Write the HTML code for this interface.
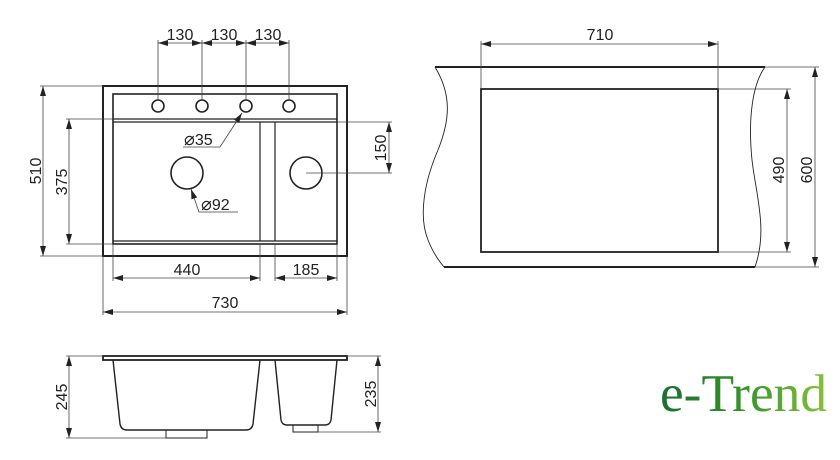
<!DOCTYPE html>
<html><head><meta charset="utf-8"><style>
html,body{margin:0;padding:0;background:#fff;}
svg{display:block;}
text{font-family:"Liberation Sans",sans-serif;font-size:16px;fill:#222;}
</style></head><body>
<svg width="840" height="460" viewBox="0 0 840 460" xmlns="http://www.w3.org/2000/svg">
<defs>
<marker id="a" viewBox="0 0 10 6" refX="10" refY="3" markerWidth="10" markerHeight="6" orient="auto-start-reverse" markerUnits="userSpaceOnUse"><path d="M0,0 L10,3 L0,6 z" fill="#222"/></marker>
<linearGradient id="g" x1="0" x2="1" y1="0" y2="0"><stop offset="0" stop-color="#1a7030"/><stop offset="0.5" stop-color="#369328"/><stop offset="1" stop-color="#86c23c"/></linearGradient>
</defs>
<g fill="none" stroke="#222">
<rect x="103" y="86" width="244" height="170" stroke-width="2"/>
<rect x="113" y="94" width="224" height="150" stroke-width="1.6"/>
<line x1="113" y1="119" x2="337" y2="119" stroke-width="1.2"/>
<line x1="113" y1="122" x2="337" y2="122" stroke-width="1.2"/>
<line x1="113" y1="241" x2="337" y2="241" stroke-width="1.2"/>
<line x1="260" y1="122" x2="260" y2="241" stroke-width="1.2"/>
<line x1="275" y1="122" x2="275" y2="241" stroke-width="1.2"/>
<circle cx="158" cy="106" r="6" stroke-width="1.6"/>
<circle cx="202" cy="106" r="6" stroke-width="1.6"/>
<circle cx="246" cy="106" r="6" stroke-width="1.6"/>
<circle cx="289" cy="106" r="6" stroke-width="1.6"/>
<circle cx="187" cy="173" r="16" stroke-width="1.6"/>
<circle cx="306" cy="173" r="16" stroke-width="1.6"/>
</g>
<g fill="none" stroke="#444" stroke-width="0.8">
<line x1="158" y1="40" x2="158" y2="100"/><line x1="202" y1="40" x2="202" y2="100"/>
<line x1="246" y1="40" x2="246" y2="100"/><line x1="289" y1="40" x2="289" y2="100"/>
<line x1="158" y1="43" x2="202" y2="43" marker-start="url(#a)" marker-end="url(#a)"/>
<line x1="202" y1="43" x2="246" y2="43" marker-start="url(#a)" marker-end="url(#a)"/>
<line x1="246" y1="43" x2="289" y2="43" marker-start="url(#a)" marker-end="url(#a)"/>
<line x1="40" y1="86" x2="103" y2="86"/><line x1="40" y1="256" x2="103" y2="256"/>
<line x1="43" y1="86" x2="43" y2="256" marker-start="url(#a)" marker-end="url(#a)"/>
<line x1="66" y1="119" x2="113" y2="119"/><line x1="66" y1="244" x2="113" y2="244"/>
<line x1="69" y1="119" x2="69" y2="244" marker-start="url(#a)" marker-end="url(#a)"/>
<line x1="337" y1="122" x2="392" y2="122"/><line x1="306" y1="173" x2="392" y2="173"/>
<line x1="389" y1="122" x2="389" y2="173" marker-start="url(#a)" marker-end="url(#a)"/>
<line x1="113" y1="244" x2="113" y2="281"/><line x1="260" y1="244" x2="260" y2="281"/>
<line x1="275" y1="244" x2="275" y2="281"/><line x1="337" y1="244" x2="337" y2="281"/>
<line x1="113" y1="278" x2="260" y2="278" marker-start="url(#a)" marker-end="url(#a)"/>
<line x1="275" y1="278" x2="337" y2="278" marker-start="url(#a)" marker-end="url(#a)"/>
<line x1="103" y1="256" x2="103" y2="315"/><line x1="347" y1="256" x2="347" y2="315"/>
<line x1="103" y1="312" x2="347" y2="312" marker-start="url(#a)" marker-end="url(#a)"/>
<polyline points="183,147 220,147 242,113" marker-end="url(#a)"/>
<polyline points="238,212 199,212 191,189" marker-end="url(#a)"/>
</g>
<text x="180" y="40" text-anchor="middle">130</text>
<text x="224" y="40" text-anchor="middle">130</text>
<text x="268" y="40" text-anchor="middle">130</text>
<text transform="translate(41,171) rotate(-90)" text-anchor="middle">510</text>
<text transform="translate(67,182) rotate(-90)" text-anchor="middle">375</text>
<text transform="translate(386,148) rotate(-90)" text-anchor="middle">150</text>
<text x="187" y="275" text-anchor="middle">440</text>
<text x="306" y="275" text-anchor="middle">185</text>
<text x="225" y="308" text-anchor="middle">730</text>
<text x="184" y="145"><tspan style="font-size:18px">⌀</tspan>35</text>
<text x="201" y="210"><tspan style="font-size:18px">⌀</tspan>92</text>

<g fill="none" stroke="#222">
<line x1="435" y1="67" x2="765" y2="67" stroke-width="2"/>
<line x1="444" y1="267" x2="755" y2="267" stroke-width="2"/>
<path d="M435,67 C452,95 450,120 438,150 C425,180 418,215 428,240 C434,255 440,262 444,267" stroke-width="0.9"/>
<path d="M765,67 C752,85 748,120 752,160 C756,195 768,230 755,267" stroke-width="0.9"/>
<rect x="481" y="89" width="237" height="163" stroke-width="1.8"/>
</g>
<g fill="none" stroke="#444" stroke-width="0.8">
<line x1="481" y1="41" x2="481" y2="89"/><line x1="718" y1="41" x2="718" y2="89"/>
<line x1="481" y1="44" x2="718" y2="44" marker-start="url(#a)" marker-end="url(#a)"/>
<line x1="718" y1="89" x2="791" y2="89"/><line x1="718" y1="252" x2="791" y2="252"/>
<line x1="787" y1="89" x2="787" y2="252" marker-start="url(#a)" marker-end="url(#a)"/>
<line x1="765" y1="67" x2="819" y2="67"/><line x1="755" y1="267" x2="819" y2="267"/>
<line x1="815" y1="67" x2="815" y2="267" marker-start="url(#a)" marker-end="url(#a)"/>
</g>
<text x="600" y="40" text-anchor="middle">710</text>
<text transform="translate(784,170) rotate(-90)" text-anchor="middle">490</text>
<text transform="translate(812,170) rotate(-90)" text-anchor="middle">600</text>

<g fill="none" stroke="#222" stroke-width="1.4">
<rect x="103" y="356" width="244" height="4" stroke-width="1.8"/>
<path d="M113,360 L120,424 Q121,430 127,430 L246,430 Q252,430 253,424 L260,360"/>
<path d="M275,360 L281,420 Q282,425 287,425 L325,425 Q330,425 331,420 L337,360"/>
<path d="M166,430 L166,438 L207,438 L207,430" stroke-width="1"/>
<path d="M293,425 L293,432 L318,432 L318,425" stroke-width="1"/>
</g>
<g fill="none" stroke="#444" stroke-width="0.8">
<line x1="66" y1="356" x2="103" y2="356"/><line x1="66" y1="438" x2="166" y2="438"/>
<line x1="69" y1="356" x2="69" y2="438" marker-start="url(#a)" marker-end="url(#a)"/>
<line x1="347" y1="356" x2="381" y2="356"/><line x1="318" y1="432" x2="381" y2="432"/>
<line x1="378" y1="356" x2="378" y2="432" marker-start="url(#a)" marker-end="url(#a)"/>
</g>
<text transform="translate(67,397) rotate(-90)" text-anchor="middle">245</text>
<text transform="translate(376,394) rotate(-90)" text-anchor="middle">235</text>

<text x="660" y="411" style="font-family:'Liberation Serif',serif;font-size:53px;fill:url(#g);" textLength="167" lengthAdjust="spacingAndGlyphs">e-Trend</text>
</svg>
</body></html>
